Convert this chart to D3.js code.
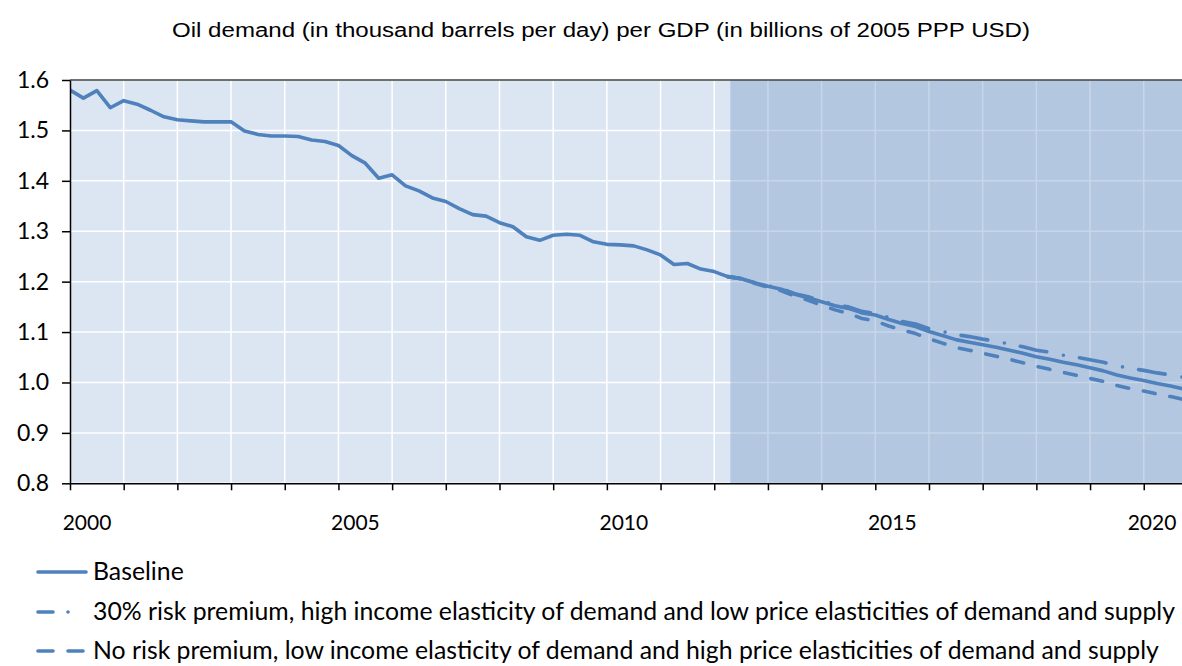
<!DOCTYPE html>
<html>
<head>
<meta charset="utf-8">
<title>Oil demand per GDP</title>
<script src="https://cdn.jsdelivr.net/npm/d3@7"></script>
<style>
  body { margin: 0; background: #fff; }
  .tick text, .lab { font-family: Lato, "Noto Sans", sans-serif; fill: #000; }
</style>
</head>
<body>
<div id="chart"></div>
<script>
// quarterly periods 2000Q1 .. 2020Q4
var quarters = d3.range(2000, 2021).flatMap(y => ["Q1", "Q2", "Q3", "Q4"].map(q => y + q));

var baseline = [
  1.580, 1.564, 1.579, 1.545,
  1.559, 1.552, 1.540, 1.527,
  1.521, 1.519, 1.517, 1.517,
  1.517, 1.499, 1.492, 1.489,
  1.489, 1.488, 1.481, 1.478,
  1.470, 1.450, 1.435, 1.405,
  1.412, 1.390, 1.380, 1.366,
  1.359, 1.345, 1.333, 1.330,
  1.317, 1.309, 1.289, 1.282,
  1.292, 1.294, 1.292, 1.279,
  1.274, 1.273, 1.271, 1.263,
  1.253, 1.234, 1.236, 1.225,
  1.220, 1.210, 1.206, 1.198,
  1.191, 1.185, 1.175, 1.168,
  1.160, 1.152, 1.147, 1.138,
  1.134, 1.125, 1.117, 1.111,
  1.101, 1.093, 1.085, 1.080,
  1.075, 1.070, 1.064, 1.058,
  1.051, 1.046, 1.040, 1.035,
  1.029, 1.023, 1.015, 1.009,
  1.004, 0.998, 0.993, 0.987
];

// scenarios start at 2012Q2
var scenarioStart = "2012Q2";
var highRisk = [
  1.210, 1.206, 1.198,
  1.192, 1.186, 1.176, 1.170,
  1.162, 1.154, 1.150, 1.141,
  1.137, 1.129, 1.121, 1.116,
  1.107, 1.101, 1.095, 1.091,
  1.086, 1.082, 1.076, 1.071,
  1.064, 1.060, 1.054, 1.050,
  1.045, 1.040, 1.033, 1.028,
  1.024, 1.019, 1.015, 1.010
];
var noRisk = [
  1.210, 1.206, 1.197,
  1.189, 1.182, 1.171, 1.163,
  1.153, 1.144, 1.137, 1.127,
  1.122, 1.112, 1.104, 1.097,
  1.087, 1.078, 1.069, 1.064,
  1.058, 1.052, 1.046, 1.039,
  1.032, 1.026, 1.020, 1.014,
  1.008, 1.002, 0.994, 0.988,
  0.983, 0.977, 0.972, 0.966
];

var forecastStart = 2012.3;
var yearLabels = [2000, 2005, 2010, 2015, 2020];
var yTicks = [0.8, 0.9, 1.0, 1.1, 1.2, 1.3, 1.4, 1.5, 1.6];
var legendNames = [
  "Baseline",
  "30% risk premium, high income elasticity of demand and low price elasticities of demand and supply",
  "No risk premium, low income elasticity of demand and high price elasticities of demand and supply"
];

var width = 1182, height = 666;
var mLeft = 70, mRight = 1184, mTop = 80, mBottom = 483.3;
var blue = "#4f81bd";

function qTime(q) { return +q.slice(0, 4) + (+q[5] - 1) / 4; }

var svg = d3.select("#chart").append("svg")
    .attr("width", width)
    .attr("height", height);

var x = d3.scaleLinear()
    .domain([2000, qTime("2020Q4")])
    .range([mLeft, mRight]);

var y = d3.scaleLinear()
    .domain([0.8, 1.6])
    .range([mBottom, mTop]);

svg.append("defs").append("clipPath").attr("id", "plot")
  .append("rect").attr("x", mLeft).attr("y", mTop - 2)
  .attr("width", mRight - mLeft).attr("height", mBottom - mTop + 4);

var plot = svg.append("g").attr("clip-path", "url(#plot)");

plot.append("rect")
    .attr("x", mLeft).attr("y", mTop)
    .attr("width", mRight - mLeft).attr("height", mBottom - mTop)
    .attr("fill", "#dce6f2");

// gridlines
plot.selectAll(".hgrid").data(yTicks).enter().append("line")
    .attr("x1", mLeft).attr("x2", mRight)
    .attr("y1", d => y(d)).attr("y2", d => y(d))
    .attr("stroke", "#fff").attr("stroke-width", 1.5);

plot.selectAll(".vgrid").data(d3.range(2001, 2021)).enter().append("line")
    .attr("x1", d => x(d)).attr("x2", d => x(d))
    .attr("y1", mTop).attr("y2", mBottom)
    .attr("stroke", "#fff").attr("stroke-width", 1.5);

// forecast shading
plot.append("rect")
    .attr("x", x(forecastStart)).attr("y", mTop)
    .attr("width", mRight - x(forecastStart)).attr("height", mBottom - mTop)
    .attr("fill", "rgb(118,153,200)").attr("opacity", 0.4);

var line = d3.line()
    .x(d => x(qTime(d.q)))
    .y(d => y(d.v));

var i0 = quarters.indexOf(scenarioStart);
var series = [
  { values: baseline.map((v, i) => ({ q: quarters[i], v: v })), dash: null },
  { values: highRisk.map((v, i) => ({ q: quarters[i0 + i], v: v })), dash: "27,17,0,16.3" },
  { values: noRisk.map((v, i) => ({ q: quarters[i0 + i], v: v })), dash: "12,15" }
];

plot.selectAll(".series").data(series.slice().reverse()).enter().append("path")
    .attr("d", d => line(d.values))
    .attr("fill", "none")
    .attr("stroke", blue)
    .attr("stroke-width", 3.6)
    .attr("stroke-linecap", "round")
    .attr("stroke-linejoin", "round")
    .attr("stroke-dasharray", d => d.dash);

// top border
svg.append("line")
    .attr("x1", mLeft).attr("x2", width)
    .attr("y1", mTop).attr("y2", mTop)
    .attr("stroke", "#404040").attr("stroke-width", 1.5);

// axes
var gY = svg.append("g")
    .attr("transform", "translate(" + mLeft + ",0)")
    .call(d3.axisLeft(y).tickValues(yTicks).tickFormat(d3.format(".1f")).tickSize(8).tickSizeOuter(0).tickPadding(13));
gY.selectAll("text").attr("font-size", 23);

var gX = svg.append("g")
    .attr("transform", "translate(0," + mBottom + ")")
    .call(d3.axisBottom(x).tickValues(d3.range(2000, 2021)).tickFormat("").tickSize(7).tickSizeOuter(0));

[gX, gY].forEach(g => {
  g.select(".domain").attr("stroke", "#000").attr("stroke-width", 1.5);
  g.selectAll(".tick line").attr("stroke", "#000").attr("stroke-width", 1.5);
});

svg.selectAll(".xlab").data(yearLabels).enter().append("text")
    .attr("class", "lab")
    .attr("x", d => Math.min(x(d) + 17, width - 30))
    .attr("y", 530)
    .attr("text-anchor", "middle")
    .attr("font-size", 21)
    .text(d => d);

// title
svg.append("text")
    .attr("x", 601).attr("y", 37)
    .attr("text-anchor", "middle")
    .attr("font-family", "'Liberation Sans', Arial, sans-serif")
    .attr("font-size", 20)
    .attr("textLength", 858)
    .attr("lengthAdjust", "spacingAndGlyphs")
    .attr("fill", "#000")
    .text("Oil demand (in thousand barrels per day) per GDP (in billions of 2005 PPP USD)");

// legend
var legend = svg.selectAll(".legend").data(series).enter().append("g")
    .attr("transform", (d, i) => "translate(0," + [572, 612, 651][i] + ")");

legend.append("line")
    .attr("x1", 38).attr("x2", 86)
    .attr("stroke", blue).attr("stroke-width", 3.6)
    .attr("stroke-linecap", "round")
    .attr("stroke-dasharray", (d, i) => [null, "15,15,0,40", "15,15"][i]);

legend.append("text")
    .attr("class", "lab")
    .attr("x", 93).attr("y", 8)
    .attr("font-size", 24.8)
    .text((d, i) => legendNames[i]);
</script>
</body>
</html>
